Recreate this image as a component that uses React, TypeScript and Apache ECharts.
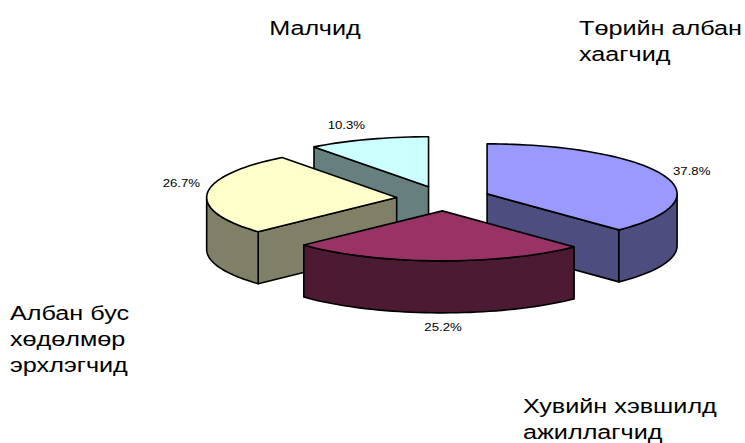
import React, { useEffect, useRef } from 'react';
import * as echarts from 'echarts';

const categories = [
  'Төрийн албан\nхаагчид',
  'Хувийн хэвшилд\nажиллагчид',
  'Албан бус\nхөдөлмөр\nэрхлэгчид',
  'Малчид',
];
const values = [37.8, 25.2, 26.7, 10.3];
const topColors = ['#9999FF', '#993366', '#FFFFCC', '#CCFFFF'];
const sideColors = ['#4D4D80', '#4D1A33', '#808066', '#668080'];

// layout (not data)
const bigLabelPos: [number, number, string][] = [
  [579, 15, 'left'],
  [523, 393, 'left'],
  [10, 300, 'left'],
  [315, 15, 'center'],
];
const pctLabelPos: [number, number, string][] = [
  [673, 171, 'left'],
  [443, 327, 'center'],
  [200, 183, 'right'],
  [365, 125, 'right'],
];

const CX = 443.5;
const CY = 198.5;
const RX = 190;
const RY = 50;
const H = 52;
const EXPLODE = 47;
const TEXT_STRETCH = 1.2;

const total = values.reduce((a, b) => a + b, 0);
const deg = Math.PI / 180;

function renderItem(params: any, api: any) {
  const i = params.dataIndex;
  const v = api.value(1);
  let before = 0;
  for (let k = 0; k < i; k++) before += values[k];
  const a1 = (before / total) * 360;
  const a2 = ((before + v) / total) * 360;
  const bis = (a1 + a2) / 2;
  const ax = CX + EXPLODE * Math.sin(bis * deg);
  const ay = CY - EXPLODE * (RY / RX) * Math.cos(bis * deg);
  const P = (ang: number, dy = 0) => [ax + RX * Math.sin(ang * deg), ay - RY * Math.cos(ang * deg) + dy];
  const arc = (s: number, e: number, dy = 0) => {
    const pts: number[][] = [];
    const n = Math.max(2, Math.ceil(Math.abs(e - s) / 2));
    for (let j = 0; j <= n; j++) pts.push(P(s + ((e - s) * j) / n, dy));
    return pts;
  };
  const z2 = Math.round(ay * 10);
  const lineStyle = { stroke: '#000', lineWidth: 1.6, lineJoin: 'round' };
  const children: any[] = [];
  if (Math.sin(a1 * deg) < -1e-6) {
    const p = P(a1);
    children.push({
      type: 'polygon', z2,
      shape: { points: [[ax, ay], p, [p[0], p[1] + H], [ax, ay + H]] },
      style: { fill: sideColors[i], ...lineStyle },
    });
  }
  if (Math.sin(a2 * deg) > 1e-6) {
    const p = P(a2);
    children.push({
      type: 'polygon', z2,
      shape: { points: [[ax, ay], p, [p[0], p[1] + H], [ax, ay + H]] },
      style: { fill: sideColors[i], ...lineStyle },
    });
  }
  const s = Math.max(a1, 90);
  const e = Math.min(a2, 270);
  if (e > s) {
    const pts = arc(s, e).concat(arc(e, s, H));
    children.push({
      type: 'polygon', z2,
      shape: { points: pts },
      style: { fill: sideColors[i], ...lineStyle },
    });
  }
  const topPts = [[ax, ay]].concat(arc(a1, a2));
  children.push({
    type: 'polygon', z2: z2 + 1,
    shape: { points: topPts },
    style: { fill: topColors[i], ...lineStyle },
  });
  const lp = pctLabelPos[i];
  children.push({
    type: 'text', z2: 100000,
    x: lp[0], y: lp[1],
    scaleX: TEXT_STRETCH,
    style: {
      text: v.toFixed(1) + '%',
      fill: '#000',
      font: '11px "Liberation Sans", Arial, sans-serif',
      align: lp[2], verticalAlign: 'middle',
    },
  });
  return { type: 'group', children };
}

export default function App() {
  const ref = useRef<HTMLDivElement>(null);
  useEffect(() => {
    document.body.style.margin = '0';
    const chart = echarts.init(ref.current!, null, { renderer: 'svg' });
    chart.setOption({
      animation: false,
      backgroundColor: '#fff',
      graphic: categories.map((c, i) => ({
        type: 'text',
        x: bigLabelPos[i][0],
        y: bigLabelPos[i][1],
        scaleX: TEXT_STRETCH,
        style: {
          text: c,
          fill: '#000',
          font: '21px "Liberation Sans", Arial, sans-serif',
          lineHeight: 26,
          align: bigLabelPos[i][2],
          verticalAlign: 'top',
        },
      })),
      series: [
        {
          type: 'custom',
          coordinateSystem: 'none',
          renderItem,
          data: values.map((v, i) => ({ name: categories[i], value: [i, v] })),
        },
      ],
    });
    return () => chart.dispose();
  }, []);
  return <div ref={ref} style={{ width: 745, height: 443 }} />;
}
